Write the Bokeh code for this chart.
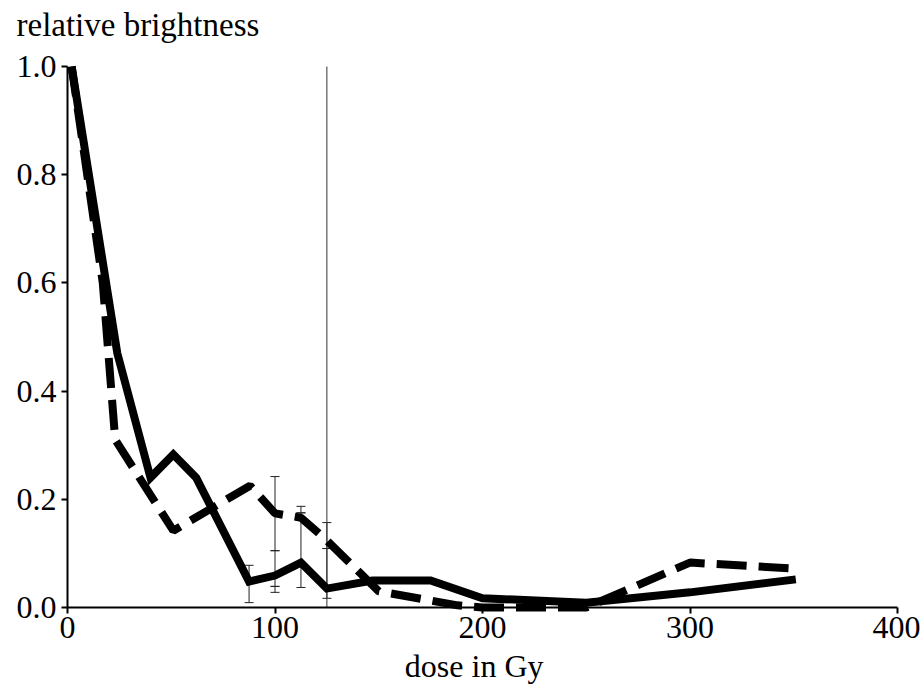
from bokeh.plotting import figure
from bokeh.models import Range1d, FixedTicker, PrintfTickFormatter, Label, Whisker, ColumnDataSource, TeeHead
from bokeh.embed import file_html
from bokeh.resources import INLINE

# solid series
solid_x = [2, 24, 40, 51, 62, 87.5, 100, 112.5, 125, 147, 175, 200, 250, 300, 351]
solid_y = [1.0, 0.47, 0.24, 0.283, 0.24, 0.048, 0.059, 0.083, 0.035, 0.05, 0.05, 0.017, 0.009, 0.028, 0.052]
# dashed series
dash_x = [2, 17, 23, 51, 88, 100, 112.5, 125, 150, 188, 200, 250, 300, 351]
dash_y = [1.0, 0.6, 0.31, 0.142, 0.225, 0.174, 0.166, 0.124, 0.03, 0.004, 0.0, 0.0, 0.083, 0.072]
# error bars
err_x = [87.5, 100, 100, 100, 112.5, 112.5, 125, 125]
err_lo = [0.009, 0.105, 0.039, 0.028, 0.175, 0.037, 0.109, 0.017]
err_hi = [0.078, 0.242, 0.105, 0.039, 0.187, 0.175, 0.157, 0.109]
# vertical marker
vline_x = [125]
vline_y0 = [0.0]
vline_y1 = [1.0]

x_ticks = [0, 100, 200, 300, 400]
y_ticks = [0.0, 0.2, 0.4, 0.6, 0.8, 1.0]
y_title = "relative brightness"
x_title = "dose in Gy"

FONT = "Liberation Serif"
FS = "32px"

W, H = 920, 686
LEFT, TOP0 = 67, 607          # canvas pixel of dose 0 / brightness 0
XPX = 830 / 400               # px per dose unit
YPX = 541 / 1.0               # px per brightness unit

# frame spans the whole canvas; axes are drawn at data 0 so titles can sit outside them
p = figure(width=W, height=H, output_backend="svg", toolbar_location=None, title=None,
           x_range=Range1d(-LEFT / XPX, (W - LEFT) / XPX),
           y_range=Range1d(-(H - TOP0) / YPX, TOP0 / YPX),
           min_border_left=0, min_border_right=0, min_border_top=0, min_border_bottom=0)
p.outline_line_color = None
p.xgrid.visible = False
p.ygrid.visible = False
p.background_fill_color = "white"

p.add_layout(Label(x=0, y=1.0, x_offset=-51, y_offset=42, text=y_title, text_baseline="alphabetic",
                   text_align="left", text_font=FONT, text_font_size="33px", text_color="black"))
p.add_layout(Label(x=196, y=0, y_offset=-58, text=x_title, text_baseline="alphabetic",
                   text_align="center", text_font=FONT, text_font_size=FS, text_color="black"))

p.xaxis.ticker = FixedTicker(ticks=x_ticks)
p.yaxis.ticker = FixedTicker(ticks=y_ticks)
p.xaxis.bounds = (0, 400)
p.yaxis.bounds = (0, 1.0)
p.yaxis.fixed_location = 0
p.xaxis.fixed_location = 0
p.yaxis.formatter = PrintfTickFormatter(format="%.1f")
for ax in (p.xaxis, p.yaxis):
    ax.axis_line_width = 2
    ax.axis_line_color = "black"
    ax.major_tick_line_color = "black"
    ax.major_tick_line_width = 2
    ax.major_tick_out = 6
    ax.major_tick_in = 0
    ax.minor_tick_line_color = None
    ax.major_label_text_font = FONT
    ax.major_label_text_font_size = FS
    ax.major_label_text_color = "black"
p.xaxis.major_label_standoff = 3
p.yaxis.major_label_standoff = 5

p.segment(x0=vline_x, y0=vline_y0, x1=vline_x, y1=vline_y1, line_color="#333333", line_width=1)

src = ColumnDataSource(dict(x=err_x, lo=err_lo, hi=err_hi))
w = Whisker(source=src, base="x", lower="lo", upper="hi", line_color="#222222", line_width=1,
            upper_head=TeeHead(size=9, line_color="#222222", line_width=1),
            lower_head=TeeHead(size=9, line_color="#222222", line_width=1))
p.add_layout(w)

p.line(dash_x, dash_y, line_color="black", line_width=8, line_dash="30 12")
p.line(solid_x, solid_y, line_color="black", line_width=8, line_join="miter")

open("out.html", "w").write(file_html(p, INLINE))
